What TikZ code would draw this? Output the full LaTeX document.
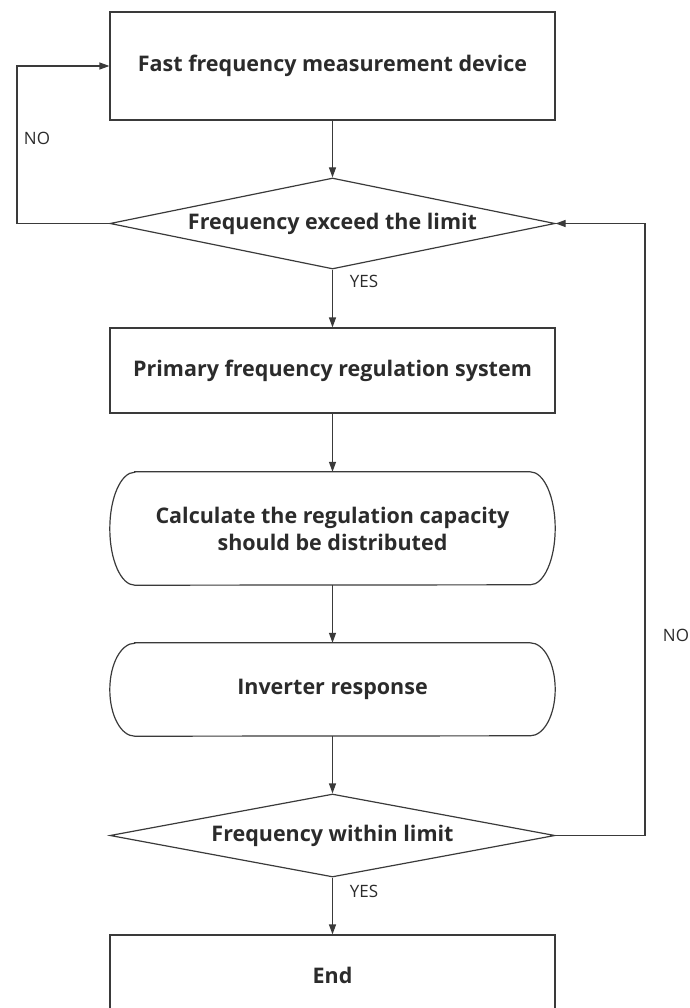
\documentclass[tikz,border=0pt]{standalone}
\usepackage{fontspec}
\setmainfont{Open Sans}
\usetikzlibrary{arrows.meta,shapes.geometric}
\definecolor{ln}{HTML}{3A3A3A}
\definecolor{tx}{HTML}{2B2B2B}
\begin{document}
\begin{tikzpicture}[x=1pt,y=1pt,
  line/.style={draw=ln, line width=1.2pt},
  arr/.style={line, -{Triangle[length=10pt,width=7pt]}},
  bigfont/.style={font=\fontsize{21.5}{27}\selectfont\bfseries},
  box/.style={draw=ln, line width=1.2pt, rectangle, minimum width=445pt, text=tx, bigfont, inner sep=0pt},
  dia/.style={draw=ln, line width=1.2pt, diamond, aspect=4.9, minimum width=445pt, text=tx, bigfont, inner sep=0pt},
  rbox/.style={rectangle, minimum width=445pt, text=tx, bigfont, align=center, inner sep=0pt},
  lab/.style={text=tx, font=\fontsize{17}{20}\selectfont, inner sep=0pt}
]
\useasboundingbox (0,0) rectangle (689,-1008);
\node[box, minimum height=108pt] (b1) at (332.5,-66) {Fast frequency measurement device};
\node[dia, minimum height=91pt] (d1) at (332.5,-223.5) {Frequency exceed the limit};
\node[box, minimum height=85pt] (b2) at (332.5,-370.5) {Primary frequency regulation system};
\node[rbox, minimum height=113pt] (r3) at (332.5,-528.5) {Calculate the regulation capacity\\should be distributed};
\node[rbox, minimum height=93pt] (r4) at (332.5,-689.5) {Inverter response};
\node[dia, minimum height=83pt] (d2) at (332.5,-835.5) {Frequency within limit};
\node[box, minimum height=80pt] (e) at (332.5,-975) {End};
% stadium outlines
\draw[line] ([xshift=25pt]r3.north west) -- ([xshift=-25pt]r3.north east)
  arc[start angle=90,end angle=-90,x radius=25pt,y radius=56.5pt]
  -- ([xshift=25pt]r3.south west)
  arc[start angle=270,end angle=90,x radius=25pt,y radius=56.5pt] -- cycle;
\draw[line] ([xshift=25pt]r4.north west) -- ([xshift=-25pt]r4.north east)
  arc[start angle=90,end angle=-90,x radius=25pt,y radius=46.5pt]
  -- ([xshift=25pt]r4.south west)
  arc[start angle=270,end angle=90,x radius=25pt,y radius=46.5pt] -- cycle;
% connectors
\draw[arr] (b1) -- (d1);
\draw[arr] (d1) -- (b2);
\draw[arr] (b2) -- (r3);
\draw[arr] (r3) -- (r4);
\draw[arr] (r4) -- (d2);
\draw[arr] (d2) -- (e);
\coordinate (lx) at (17,0);
\coordinate (rx) at (645,0);
\draw[arr] (d1.west) -- (d1.west -| lx) |- (b1.west);
\draw[arr] (d2.east) -- (d2.east -| rx) |- (d1.east);
% labels
\node[lab] (no1) at (37,-138) {NO};
\node[lab] (yes1) at (364,-281) {YES};
\node[lab] (no2) at (676,-635) {NO};
\node[lab] (yes2) at (364,-891) {YES};
\end{tikzpicture}
\end{document}
